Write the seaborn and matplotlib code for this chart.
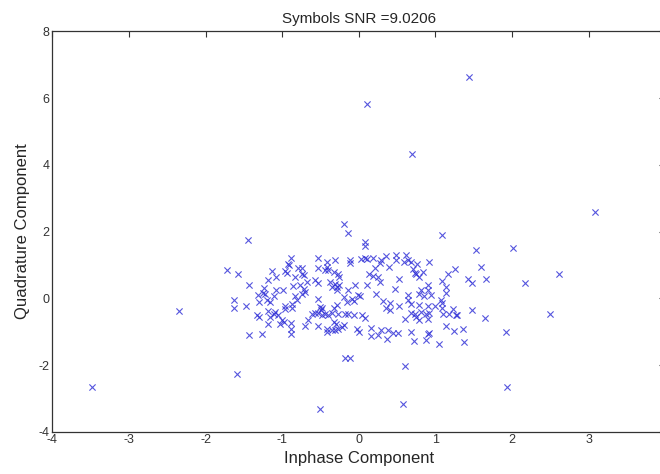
import numpy as np
import pandas as pd
import matplotlib
matplotlib.use("Agg")
import matplotlib.pyplot as plt
import seaborn as sns

# Received constellation symbols (in-phase / quadrature)
inphase = [
    # scattered outliers
    -3.48, -2.35, -1.72, -1.45, -1.59, -0.51, 0.58, 0.10, 1.44, 0.70, 3.08, 2.50,
    2.61, 1.93, 1.92, 2.01, 2.17,
    # upper-left group
    -1.58, -1.44, -0.88, -0.93, -0.91, -0.96, -0.94, -1.14, -1.19, -1.08, -1.24,
    -1.25, -1.23, -1.08, -0.99, -0.86, -0.83, -0.80, -0.74, -0.74, -0.71, -0.68,
    -0.77, -0.72, -0.70, -0.74, -0.83, -0.81, -0.87, -1.11, -1.20, -1.16, -1.32,
    -1.30, -1.63, -1.63, -1.48, -0.54, -0.42, -0.41, -0.44, -0.40, -0.31, -0.53,
    -0.57, -0.54, -0.38, -0.35, -0.53, -0.51, -0.48, -0.97, -0.97, -0.87,
    # lower-left group
    -1.33, -1.31, -1.18, -1.18, -1.16, -1.11, -1.09, -1.05, -1.00, -1.03, -0.98,
    -0.88, -0.88, -0.88, -1.44, -1.26, -0.70, -0.66, -0.61, -0.57, -0.53, -0.49,
    -0.48, -0.54, -0.42, -0.41, -0.35, -0.31, -0.27, -0.44, -0.40, -0.35, -0.27,
    -0.33, -0.30, -0.28,
    # lower-right group
    -0.16, -0.06, 0.32, 0.40, 0.53, 0.35, 0.40, 0.90, 0.99, 1.09, 1.09, 1.23,
    -0.18, -0.14, -0.07, 0.04, 0.08, 0.68, 0.73, 0.81, 0.88, 0.92, 0.60, 0.75,
    0.78, 0.90, 1.10, 1.18, 1.27, -0.22, -0.19, -0.02, 0.00, 0.16, 0.16, 0.25,
    0.29, 0.38, 0.37, 0.45, 0.51, 0.68, 0.72, 0.88, 0.90, 0.92, 1.04, 1.14,
    -0.18, -0.12, 0.60, -0.32,
    1.28, 1.48, 1.64, 1.24, 1.36, 1.37,
    # upper-right group
    -0.19, -0.14, 1.08, 0.08, 0.08, -0.12, -0.12, 0.03, 0.08, 0.10, 0.19, 0.29,
    0.36, 0.27, 0.48, 0.48, 0.61, 0.59, 0.64, 0.68, 0.76, 0.91, -0.32, -0.27,
    -0.26, 0.21, 0.13, 0.19, 0.25, 0.27, 0.39, 0.71, 0.73, 0.75, 0.84, 0.78,
    0.52, 1.09, 1.16, 1.14, 1.14, -0.31, -0.29, -0.26, -0.29, -0.14, -0.05,
    0.10, 0.47, 0.81, 0.90, 0.90, 0.79, 0.85, 0.94, 0.64, 0.64, 0.23, -0.20,
    -0.09, -0.01, 0.01, 1.07, 0.68, 0.79,
    1.53, 1.26, 1.60, 1.42, 1.48, 1.66,
]

quadrature = [
    # scattered outliers
    -2.67, -0.39, 0.86, 1.76, -2.28, -3.31, -3.18, 5.83, 6.64, 4.33, 2.60, -0.46,
    0.73, -2.66, -1.01, 1.52, 0.47,
    # upper-left group
    0.72, 0.41, 1.22, 1.04, 0.99, 0.82, 0.77, 0.81, 0.56, 0.64, 0.31,
    0.16, 0.14, 0.24, 0.24, 0.36, 0.64, 0.91, 0.91, 0.74, 0.69, 0.49,
    0.39, 0.29, 0.19, 0.14, 0.06, -0.06, -0.18, 0.06, -0.06, -0.11, 0.09,
    -0.11, -0.06, -0.28, -0.24, 1.22, 1.09, 0.94, 0.84, 0.86, 1.16, 0.92,
    0.54, 0.46, 0.49, 0.34, -0.03, -0.26, -0.29, -0.24, -0.31, -0.28,
    # lower-left group
    -0.51, -0.56, -0.38, -0.76, -0.56, -0.46, -0.41, -0.51, -0.66, -0.76, -0.71,
    -0.74, -0.91, -1.06, -1.11, -1.06, -0.84, -0.66, -0.46, -0.44, -0.44, -0.36,
    -0.51, -0.84, -0.91, -1.01, -0.96, -0.94, -0.91, -0.46, -0.51, -0.44, -0.46,
    -0.71, -0.76, -0.21,
    # lower-right group
    -0.11, -0.08, -0.08, -0.14, -0.23, -0.28, -0.36, -0.24, -0.22, -0.14, -0.28, -0.33,
    -0.48, -0.48, -0.51, -0.51, -0.58, -0.44, -0.48, -0.41, -0.48, -0.44, -0.63, -0.56,
    -0.66, -0.61, -0.48, -0.46, -0.51, -0.86, -0.79, -0.91, -1.01, -0.88, -1.14, -1.11,
    -0.94, -0.96, -1.21, -1.03, -1.03, -1.01, -1.29, -1.26, -1.06, -1.04, -1.38, -0.83,
    -1.79, -1.78, -2.03, -0.28,
    -0.49, -0.36, -0.59, -0.98, -0.93, -1.31,
    # upper-right group
    2.22, 1.97, 1.91, 1.69, 1.56, 1.14, 1.07, 1.17, 1.21, 1.17, 1.22, 1.14,
    1.26, 1.06, 1.29, 1.16, 1.31, 1.09, 1.16, 1.09, 1.04, 1.09, 0.79, 0.74,
    0.64, 0.92, 0.74, 0.66, 0.64, 0.49, 0.94, 0.89, 0.76, 0.74, 0.79, 0.64,
    0.59, 0.52, 0.72, 0.34, 0.16, 0.44, 0.34, 0.39, 0.24, 0.26, 0.39,
    0.39, 0.29, 0.26, 0.39, 0.24, 0.14, 0.06, 0.09, 0.09, -0.04, 0.12, 0.04,
    -0.01, 0.09, 0.06, -0.06, -0.18, -0.21,
    1.44, 0.88, 0.93, 0.58, 0.45, 0.57,
]

snr_value = 9.0206
x_ticks = [-4, -3, -2, -1, 0, 1, 2, 3, 4]
x_tick_labels = ["-4", "-3", "-2", "-1", "0", "1", "2", "3", ""]
y_ticks = [-4, -2, 0, 2, 4, 6, 8]
y_tick_labels = ["-4", "-2", "0", "2", "4", "6", "8"]

df = pd.DataFrame({"I": inphase, "Q": quadrature})

sns.set_style("white")
plt.rcParams["font.family"] = ["Liberation Sans", "DejaVu Sans"]
plt.rcParams["axes.unicode_minus"] = False

fig = plt.figure(figsize=(6.6, 4.74), dpi=100)
ax = fig.add_axes([0.0795, 0.0892, 0.9285, 0.8445])

sns.scatterplot(data=df, x="I", y="Q", marker="x", color="#2b2bd6",
                s=20, linewidth=0.8, alpha=0.8, ax=ax, legend=False)

ax.set_xlim(-4, 4)
ax.set_ylim(-4, 8)
ax.set_xticks(x_ticks, x_tick_labels)
ax.set_yticks(y_ticks, y_tick_labels)
ax.tick_params(axis="both", which="both", direction="in", length=4, width=0.8,
               top=True, right=True, labelsize=9, colors="#333333", pad=2)
for sp in ax.spines.values():
    sp.set_visible(True)
    sp.set_color("#333333")
    sp.set_linewidth(0.9)

ax.set_xlabel("Inphase Component", fontsize=12, labelpad=3)
ax.set_ylabel("Quadrature Component", fontsize=12, labelpad=6)
ax.set_title(f"Symbols SNR ={snr_value}", fontsize=11, pad=6)

fig.savefig("out.png", dpi=100, facecolor="white")
